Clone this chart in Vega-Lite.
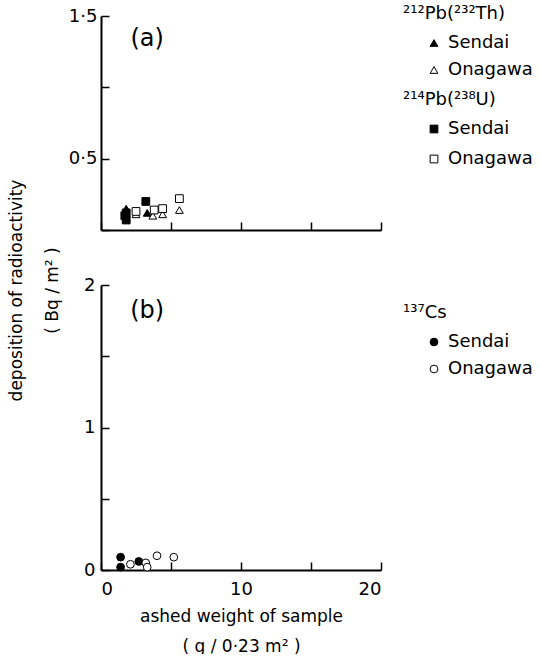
{
  "$schema": "https://vega.github.io/schema/vega-lite/v6.json",
  "background": "white",
  "padding": {"left": 7, "top": 5, "right": 0, "bottom": 0},
  "config": {
    "view": {"stroke": null},
    "font": "DejaVu Sans",
    "axis": {
      "grid": false,
      "domainColor": "black",
      "domainWidth": 2,
      "tickColor": "black",
      "tickWidth": 1.5,
      "tickSize": -8,
      "labelColor": "black",
      "labelFontSize": 18,
      "labelPadding": 14,
      "titleColor": "black",
      "titleFontWeight": "normal",
      "titleFontSize": 17
    },
    "legend": {
      "orient": "none",
      "titleFontWeight": "normal",
      "titleFontSize": 18,
      "titleColor": "black",
      "labelFontSize": 18,
      "labelColor": "black",
      "labelOffset": 5,
      "symbolOffset": 22,
      "symbolStrokeColor": "black",
      "symbolStrokeWidth": 1,
      "symbolSize": 60,
      "rowPadding": 9,
      "titlePadding": 11,
      "padding": 0
    }
  },
  "datasets": {
    "pb212": [
      {"site": "Sendai", "x": 1.8, "y": 0.15},
      {"site": "Sendai", "x": 1.8, "y": 0.09},
      {"site": "Sendai", "x": 3.3, "y": 0.12},
      {"site": "Onagawa", "x": 2.5, "y": 0.11},
      {"site": "Onagawa", "x": 3.7, "y": 0.1},
      {"site": "Onagawa", "x": 4.4, "y": 0.11},
      {"site": "Onagawa", "x": 5.6, "y": 0.14}
    ],
    "pb214": [
      {"site": "Sendai", "x": 1.8, "y": 0.12},
      {"site": "Sendai", "x": 1.8, "y": 0.07},
      {"site": "Sendai", "x": 1.7, "y": 0.1},
      {"site": "Sendai", "x": 3.2, "y": 0.2},
      {"site": "Onagawa", "x": 2.5, "y": 0.13},
      {"site": "Onagawa", "x": 3.8, "y": 0.14},
      {"site": "Onagawa", "x": 4.4, "y": 0.15},
      {"site": "Onagawa", "x": 5.6, "y": 0.22}
    ],
    "cs137": [
      {"site": "Sendai", "x": 1.4, "y": 0.09},
      {"site": "Sendai", "x": 1.4, "y": 0.02},
      {"site": "Sendai", "x": 2.7, "y": 0.06},
      {"site": "Onagawa", "x": 2.1, "y": 0.04},
      {"site": "Onagawa", "x": 3.2, "y": 0.05},
      {"site": "Onagawa", "x": 3.3, "y": 0.02},
      {"site": "Onagawa", "x": 4.0, "y": 0.1},
      {"site": "Onagawa", "x": 5.2, "y": 0.09}
    ]
  },
  "vconcat": [
    {
      "width": 280,
      "height": 214,
      "layer": [
        {
          "data": {"name": "pb212"},
          "mark": {"type": "point", "shape": "triangle-up", "filled": true, "stroke": "black", "strokeWidth": 1, "size": 60, "opacity": 1},
          "encoding": {
            "x": {"field": "x", "type": "quantitative", "scale": {"domain": [0, 20], "nice": false},
                  "axis": {"values": [0, 5, 10, 15, 20], "labels": false, "title": null}},
            "y": {"field": "y", "type": "quantitative", "scale": {"domain": [0, 1.5], "nice": false},
                  "axis": {"values": [0, 0.5, 1, 1.5], "title": null, "labelPadding": 12,
                           "labelExpr": "datum.value == 0.5 ? '0·5' : datum.value == 1.5 ? '1·5' : ''"}},
            "fill": {"field": "site", "type": "nominal",
                     "scale": {"domain": ["Sendai", "Onagawa"], "range": ["black", "white"]},
                     "legend": {"title": "²¹²Pb(²³²Th)", "legendX": 302, "legendY": -11}}
          }
        },
        {
          "data": {"name": "pb214"},
          "mark": {"type": "point", "shape": "square", "filled": true, "stroke": "black", "strokeWidth": 1, "size": 60, "opacity": 1},
          "encoding": {
            "x": {"field": "x", "type": "quantitative"},
            "y": {"field": "y", "type": "quantitative"},
            "fill": {"field": "site", "type": "nominal",
                     "scale": {"domain": ["Sendai", "Onagawa"], "range": ["black", "white"]},
                     "legend": {"title": "²¹⁴Pb(²³⁸U)", "legendX": 302, "legendY": 75, "rowPadding": 12}}
          }
        },
        {
          "data": {"values": [{"label": "(a)"}]},
          "mark": {"type": "text", "fontSize": 24, "color": "black", "align": "center", "baseline": "middle"},
          "encoding": {
            "x": {"datum": 3.3, "type": "quantitative"},
            "y": {"datum": 1.34, "type": "quantitative"},
            "text": {"field": "label"}
          }
        }
      ],
      "resolve": {"scale": {"fill": "independent"}, "legend": {"fill": "independent"}}
    },
    {
      "width": 280,
      "height": 285,
      "layer": [
        {
          "data": {"name": "cs137"},
          "mark": {"type": "point", "shape": "circle", "filled": true, "stroke": "black", "strokeWidth": 1, "size": 60, "opacity": 1},
          "encoding": {
            "x": {"field": "x", "type": "quantitative", "scale": {"domain": [0, 20], "nice": false},
                  "axis": {"values": [0, 5, 10, 15, 20], "labelPadding": 18,
                           "labelExpr": "datum.value % 10 == 0 ? format(datum.value, 'd') : ''",
                           "title": ["ashed weight of sample", "( g / 0·23 m² )"], "titleLineHeight": 30, "titlePadding": 10}},
            "y": {"field": "y", "type": "quantitative", "scale": {"domain": [0, 2], "nice": false},
                  "axis": {"values": [0, 0.5, 1, 1.5, 2],
                           "labelExpr": "datum.value % 1 == 0 ? format(datum.value, 'd') : ''",
                           "title": ["deposition of radioactivity", "( Bq / m² )"], "titleLineHeight": 36, "titleY": 5, "titlePadding": 22}},
            "fill": {"field": "site", "type": "nominal",
                     "scale": {"domain": ["Sendai", "Onagawa"], "range": ["black", "white"]},
                     "legend": {"title": "¹³⁷Cs", "legendX": 302, "legendY": 19}}
          }
        },
        {
          "data": {"values": [{"label": "(b)"}]},
          "mark": {"type": "text", "fontSize": 24, "color": "black", "align": "center", "baseline": "middle"},
          "encoding": {
            "x": {"datum": 3.3, "type": "quantitative"},
            "y": {"datum": 1.82, "type": "quantitative"},
            "text": {"field": "label"}
          }
        }
      ]
    }
  ],
  "spacing": 55,
  "bounds": "flush",
  "resolve": {"scale": {"fill": "independent"}, "legend": {"fill": "independent"}}
}
